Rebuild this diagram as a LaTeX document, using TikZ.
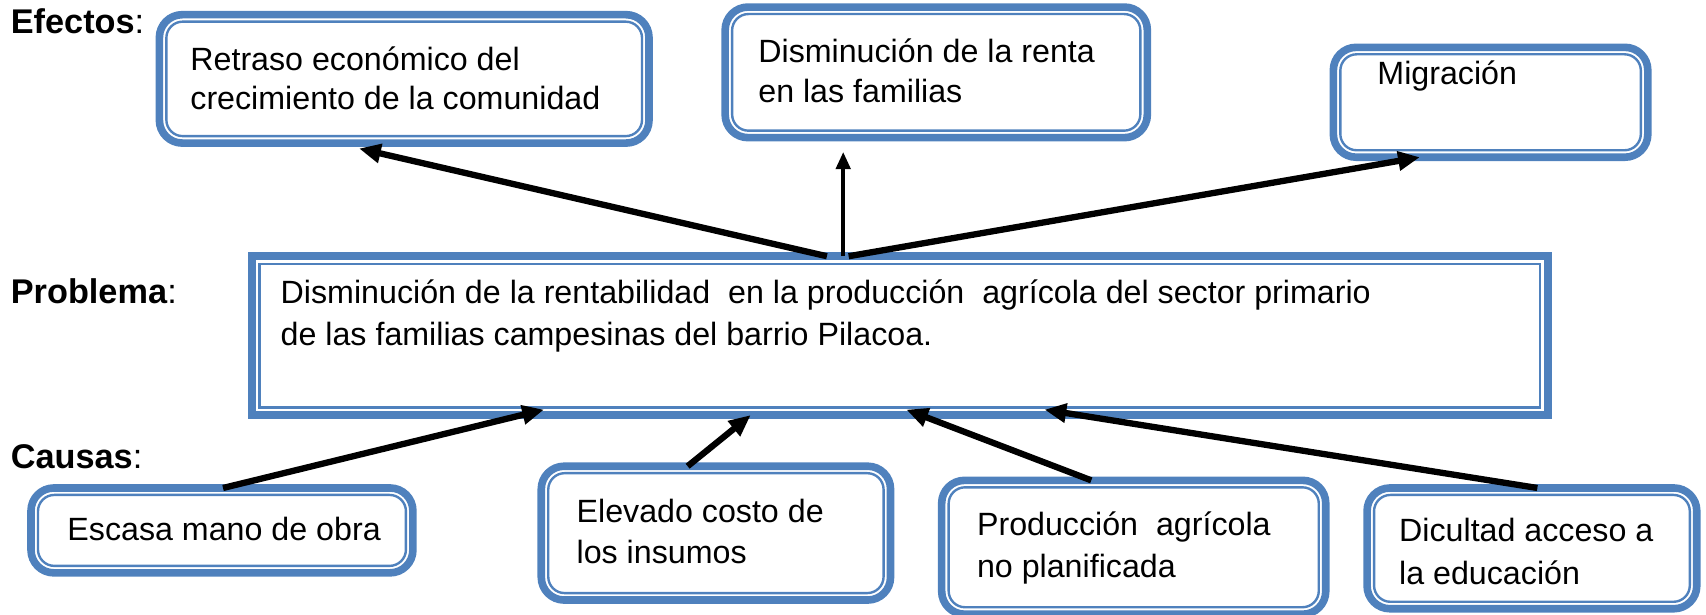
\documentclass[tikz,border=0pt]{standalone}
\usepackage{fontspec}
\setmainfont{Liberation Sans}
\usetikzlibrary{arrows.meta}
\definecolor{bl}{RGB}{79,129,189}
\begin{document}
\begin{tikzpicture}[x=1pt,y=-1pt,
  every node/.style={font=\fontsize{29.6}{34}\selectfont, inner sep=0pt, outer sep=0pt},
  rbox/.style={draw=bl, line width=7pt, rounded corners=21pt},
  sbox/.style={draw=bl, line width=7.6pt},
  rin/.style={draw=bl, line width=2.2pt, rounded corners=15pt},
  sin/.style={draw=bl, line width=2.2pt},
  txt/.style={anchor=base west},
  lab/.style={anchor=base west, font=\fontsize{31.5}{36}\selectfont},
  arr/.style={draw=black, line width=5.8pt, -{Triangle[length=20pt,width=17pt]}},
  arrthin/.style={draw=black, line width=4pt, -{Triangle[length=16pt,width=13pt]}}
]
\useasboundingbox (0,0) rectangle (1568,565);
% effect boxes
\node[rbox, minimum width=450pt, minimum height=118pt] (e1) at (371.5,72.5) {};
\node[rbox, minimum width=388pt, minimum height=120pt] (e2) at (860.5,66.5) {};
\node[rbox, minimum width=289pt, minimum height=101pt] (e3) at (1370,94) {};
% problem box
\node[sbox, minimum width=1191pt, minimum height=146pt] (p) at (827,308.5) {};
% cause boxes
\node[rbox, minimum width=351pt, minimum height=78pt] (c1) at (204,487.5) {};
\node[rbox, minimum width=321pt, minimum height=123pt] (c2) at (658,490) {};
\node[rbox, minimum width=353pt, minimum height=123pt] (c3) at (1042,503) {};
\node[rbox, minimum width=303pt, minimum height=111pt] (c4) at (1408,504) {};
% inner lines
\foreach \n in {e1,e2,e3,c1,c2,c3,c4}
  \draw[rin] ([shift={(6.4pt,6.4pt)}]\n.south west) rectangle ([shift={(-6.4pt,-6.4pt)}]\n.north east);
\draw[sin] ([shift={(6.9pt,6.9pt)}]p.south west) rectangle ([shift={(-6.9pt,-6.9pt)}]p.north east);
% labels
\node[lab] (lef) at (10,31) {\textbf{Efectos}:};
\node[lab] (lpr) at (10,279) {\textbf{Problema}:};
\node[lab] (lca) at (10,431) {\textbf{Causas}:};
% texts
\node[txt] (t1a) at (175,65) {Retraso económico del};
\node[txt] (t1b) at (175,101) {crecimiento de la comunidad};
\node[txt] (t2a) at (697,57) {Disminución de la renta};
\node[txt] (t2b) at (697,94) {en las familias};
\node[txt] (t3a) at (1266,78) {Migración};
\node[txt] (tpa) at (258,279) {Disminución de la rentabilidad\ \ en la producción\ \ agrícola del sector primario};
\node[txt] (tpb) at (258,318) {de las familias campesinas del barrio Pilacoa.};
\node[txt] (c1a) at (62,497) {Escasa mano de obra};
\node[txt] (c2a) at (530,480) {Elevado costo de};
\node[txt] (c2b) at (530,518) {los insumos};
\node[txt] (c3a) at (898,492) {Producción\ \ agrícola};
\node[txt] (c3b) at (898,531) {no planificada};
\node[txt] (c4a) at (1286,498) {Dicultad acceso a};
\node[txt] (c4b) at (1286,537) {la educación};
% effect arrows
\draw[arr] ([xshift=-67pt]p.north) -- ([xshift=-41.5pt,yshift=-5pt]e1.south);
\draw[arrthin] ([xshift=-52pt]p.north) -- ([xshift=-85.5pt,yshift=-13pt]e2.south);
\draw[arr] ([xshift=-47pt]p.north) -- ([xshift=-65pt]e3.south);
% cause arrows
\draw[arr] ([xshift=1pt]c1.north) -- ([xshift=-327pt,yshift=5pt]p.south);
\draw[arr] ([xshift=-26pt]c2.north) -- ([xshift=-137pt]p.south);
\draw[arr] ([xshift=-39pt]c3.north) -- ([xshift=6pt,yshift=5pt]p.south);
\draw[arr] ([xshift=5pt]c4.north) -- ([xshift=133pt,yshift=5pt]p.south);
\end{tikzpicture}
\end{document}
